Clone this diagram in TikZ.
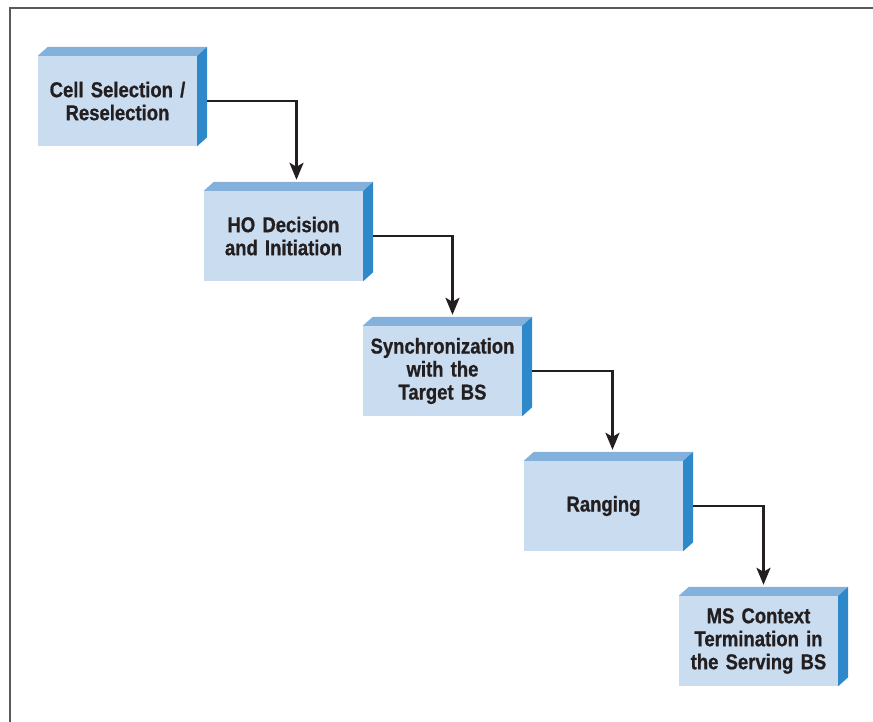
\documentclass[tikz,border=0pt]{standalone}
\usepackage{fontspec}
\setmainfont{Liberation Sans}[FakeStretch=0.86, BoldFeatures={FakeBold=0.8}]
\usetikzlibrary{arrows.meta}

\definecolor{frontblue}{HTML}{CADCF0}
\definecolor{topblue}{HTML}{84B0DC}
\definecolor{sideblue}{HTML}{2E88CA}
\definecolor{inkblack}{HTML}{231F20}

\tikzstyle{stage} = [fill=frontblue, text centered, text width=155pt, minimum width=159pt, minimum height=90pt, inner sep=0pt, text=inkblack, font=\fontsize{21.5}{23}\selectfont\bfseries]
\tikzstyle{topface} = [fill=topblue]
\tikzstyle{sideface} = [fill=sideblue]
\tikzstyle{arrow} = [draw=inkblack, line width=2.6pt, -{Stealth[length=17pt,width=14pt,inset=4pt]}]

\begin{document}
\begin{tikzpicture}[x=1pt, y=-1pt, node distance=135pt]
  \useasboundingbox (0,0) rectangle (873,722);
  \draw[line width=2.4pt, color=black!65] (873,8) -- (10,8) -- (10,722);

  \node[stage] at (117.5,101) (b1) {Cell Selection /\\Reselection};
  \node[stage, below of=b1, xshift=166pt] (b2) {HO Decision\\and Initiation};
  \node[stage, below of=b2, xshift=159pt] (b3) {Synchronization\\with the\\Target BS};
  \node[stage, below of=b3, xshift=161pt] (b4) {Ranging};
  \node[stage, below of=b4, xshift=155pt] (b5) {MS Context\\Termination in\\the Serving BS};

  % top and side faces
  \foreach \b in {b1,b2,b3,b4,b5} {
    \fill[topface] (\b.north west) -- ++(10,-9) -- ([shift={(10,-9)}]\b.north east) -- (\b.north east) -- cycle;
    \fill[sideface] (\b.north east) -- ++(10,-9) -- ([shift={(10,-9)}]\b.south east) -- (\b.south east) -- cycle;
  }

  \draw [arrow] ([xshift=10pt]b1.east) -| ([shift={(13,-11)}]b2.north);
  \draw [arrow] ([xshift=10pt]b2.east) -| ([shift={(10,-11)}]b3.north);
  \draw [arrow] ([xshift=10pt]b3.east) -| ([shift={(9,-11)}]b4.north);
  \draw [arrow] ([xshift=10pt]b4.east) -| ([shift={(5,-11)}]b5.north);
\end{tikzpicture}
\end{document}
